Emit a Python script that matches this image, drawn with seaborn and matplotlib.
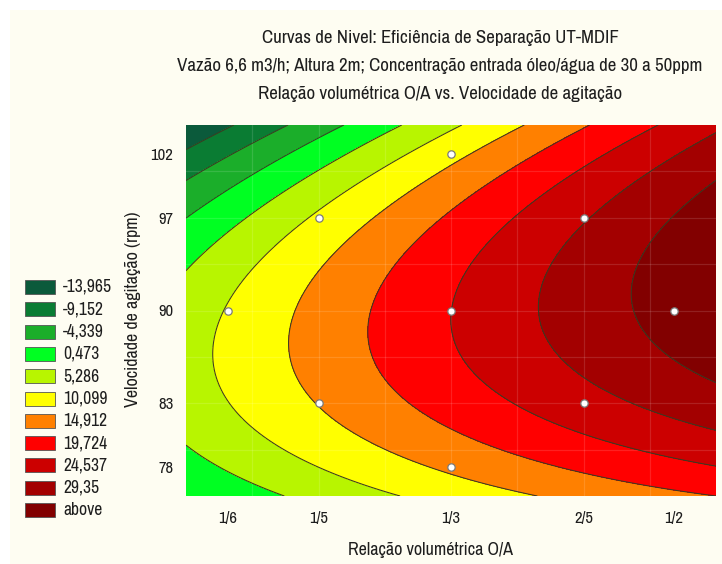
import numpy as np
import pandas as pd
import matplotlib
matplotlib.use("Agg")
import matplotlib.pyplot as plt
from matplotlib.patches import Rectangle
import seaborn as sns

# Central composite design: O/A volume ratio x stirring speed
ratio_labels = ["1/6", "1/5", "1/3", "2/5", "1/2"]
speed_labels = ["78", "83", "90", "97", "102"]
coded_levels = [-1.682, -1.0, 0.0, 1.0, 1.682]

run_ratio = ["1/5", "1/5", "2/5", "2/5", "1/6", "1/2", "1/3", "1/3", "1/3"]
run_speed = ["83", "97", "83", "97", "90", "90", "78", "102", "90"]
efficiency = [10.27, 6.03, 22.66, 24.14, 5.59, 31.25, 11.03, 8.72, 19.70]

level_values = [-13.965, -9.152, -4.339, 0.473, 5.286, 10.099, 14.912, 19.724, 24.537, 29.35]
level_labels = ["-13,965", "-9,152", "-4,339", "0,473", "5,286", "10,099",
                "14,912", "19,724", "24,537", "29,35", "above"]
level_colors = ["#0b5a3b", "#0a7c33", "#1bae2a", "#00ff22", "#b8f500", "#ffff00",
                "#ff8000", "#ff0000", "#cc0000", "#a30000", "#820000"]

sns.set_style("white")
plt.rcParams["font.family"] = ["Liberation Sans Narrow", "Archivo Narrow", "Liberation Sans", "DejaVu Sans"]
text_color = "#1e1e1e"
fs = 13

runs = pd.DataFrame({
    "ratio": run_ratio,
    "speed": run_speed,
    "eff": efficiency,
})
runs["x"] = runs["ratio"].map(dict(zip(ratio_labels, coded_levels)))
runs["y"] = runs["speed"].map(dict(zip(speed_labels, coded_levels)))


def quad_terms(x, y):
    return np.column_stack([np.ones_like(x), x, y, x * x, y * y, x * y])


# second-order response surface fitted to the runs
beta, *_ = np.linalg.lstsq(quad_terms(runs["x"].to_numpy(), runs["y"].to_numpy()),
                           runs["eff"].to_numpy(), rcond=None)
gx, gy = np.meshgrid(np.linspace(-2, 2, 400), np.linspace(-2, 2, 400))
gz = (quad_terms(gx.ravel(), gy.ravel()) @ beta).reshape(gx.shape)

W, H = 722, 564
fig = plt.figure(figsize=(W / 100, H / 100), dpi=100, facecolor="white")
fig.patches.append(Rectangle((10 / W, 0), 1, 1 - 10 / H, transform=fig.transFigure,
                             facecolor="#fefdf2", edgecolor="none", zorder=-10))

ax = fig.add_axes([186 / W, 1 - 496 / H, (716 - 186) / W, (496 - 125) / H])
bounds = [-1e3] + level_values + [1e3]
ax.contourf(gx, gy, gz, levels=bounds, colors=level_colors, zorder=1)
for v in np.arange(-1.5, 2.0, 0.5):
    ax.axvline(v, color="white", alpha=0.13, lw=0.9, zorder=1.5)
    ax.axhline(v, color="white", alpha=0.13, lw=0.9, zorder=1.5)
ax.contour(gx, gy, gz, levels=level_values, colors="#3a3a22", linewidths=0.75,
           linestyles="solid", zorder=2)
sns.scatterplot(data=runs, x="x", y="y", ax=ax, s=28, color="white",
                edgecolor="#7a7a7a", linewidth=0.9, zorder=3, legend=False)

ax.set_xlim(-2, 2)
ax.set_ylim(-2, 2)
ax.set_xticks(coded_levels)
ax.set_xticklabels(ratio_labels)
ax.set_yticks(coded_levels)
ax.set_yticklabels(speed_labels)
ax.tick_params(axis="both", length=0, labelsize=12, colors=text_color)
ax.tick_params(axis="x", pad=11)
ax.tick_params(axis="y", pad=9)
ax.set_xlabel("")
ax.set_ylabel("")
for s in ax.spines.values():
    s.set_visible(False)

fig.text(431 / W, 1 - 550 / H, "Relação volumétrica O/A", ha="center", va="center",
         fontsize=fs, color=text_color)
fig.text(133 / W, 1 - 309 / H, "Velocidade de agitação (rpm)", ha="center", va="center",
         rotation=90, fontsize=fs, color=text_color)

titles = ["Curvas de Nivel: Eficiência de Separação UT-MDIF",
          "Vazão 6,6 m3/h; Altura 2m; Concentração entrada óleo/água de 30 a 50ppm",
          "Relação volumétrica O/A vs. Velocidade de agitação"]
for i, t in enumerate(titles):
    fig.text(440 / W, 1 - (38 + 28 * i) / H, t, ha="center", va="center",
             fontsize=13.6, color=text_color)

# level legend
for i, (lab, col) in enumerate(zip(level_labels, level_colors)):
    yc = 287 + 22.3 * i
    fig.patches.append(Rectangle((25 / W, 1 - (yc + 7) / H), 30 / W, 14 / H,
                                 transform=fig.transFigure, facecolor=col,
                                 edgecolor="#555555", linewidth=0.6))
    fig.text(63 / W, 1 - yc / H, lab, ha="left", va="center", fontsize=12.6, color=text_color)

fig.savefig("out.png", dpi=100, facecolor=fig.get_facecolor())
